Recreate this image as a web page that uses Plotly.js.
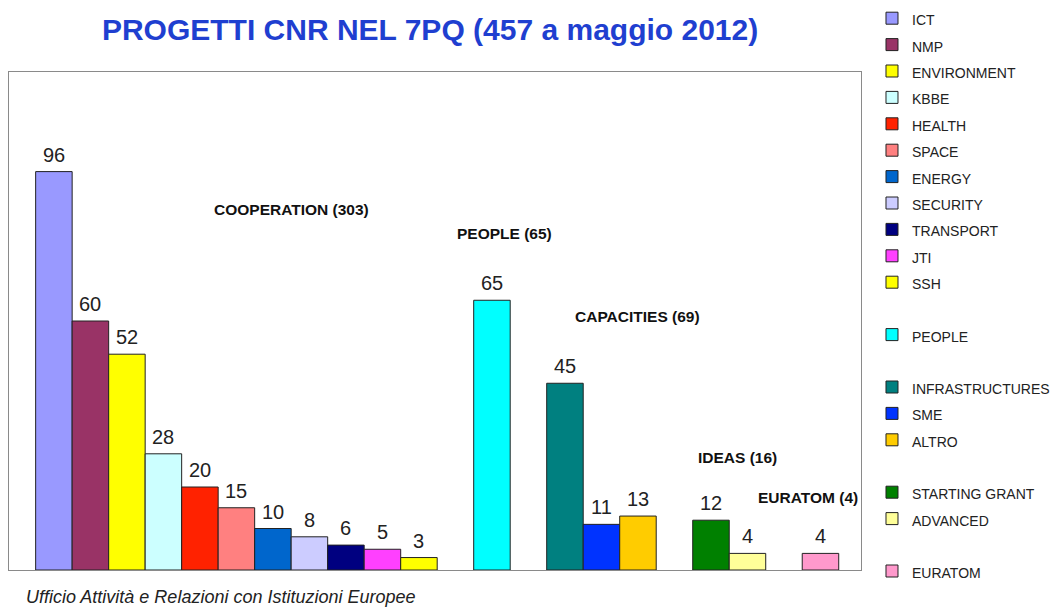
<!DOCTYPE html>
<html>
<head>
<meta charset="utf-8">
<script src="https://cdn.plot.ly/plotly-3.0.1.min.js"></script>
<style>html,body{margin:0;padding:0;background:#fff;}#chart{width:1060px;height:607px;}</style>
</head>
<body>
<div id="chart"></div>
<script>
const categories = ['ICT','NMP','ENVIRONMENT','KBBE','HEALTH','SPACE','ENERGY','SECURITY','TRANSPORT','JTI','SSH','PEOPLE','INFRASTRUCTURES','SME','ALTRO','STARTING GRANT','ADVANCED','EURATOM'];
const values = [96,60,52,28,20,15,10,8,6,5,3,65,45,11,13,12,4,4];
const programmes = ['COOPERATION','COOPERATION','COOPERATION','COOPERATION','COOPERATION','COOPERATION','COOPERATION','COOPERATION','COOPERATION','COOPERATION','COOPERATION','PEOPLE','CAPACITIES','CAPACITIES','CAPACITIES','IDEAS','IDEAS','EURATOM'];
const colors = ['#9999FF','#993366','#FFFF00','#CCFFFF','#FF2200','#FF8080','#0066CC','#CCCCFF','#000080','#FF40FF','#FFFF00','#00FFFF','#008080','#0033FF','#FFCC00','#008000','#FFFF99','#FF99CC'];
const groupLabels = ['COOPERATION (303)','PEOPLE (65)','CAPACITIES (69)','IDEAS (16)','EURATOM (4)'];
const titleText = 'PROGETTI CNR NEL 7PQ (457 a maggio 2012)';
const footerText = 'Ufficio Attività e Relazioni con Istituzioni Europee';

// layout positions of the group labels (paper coords)
const groupLabelPos = [[0.332,0.723],[0.582,0.675],[0.738,0.51],[0.8545,0.225],[0.938,0.1446]];

// category order with spacer slots between programmes
const catOrder = [];
let gapN = 0;
categories.forEach((c,i) => {
  if (i > 0 && programmes[i] !== programmes[i-1]) { gapN++; catOrder.push('gap' + gapN); }
  catOrder.push(c);
});

const FONT = 'Liberation Sans, Arial, sans-serif';

const traces = categories.map((c,i) => ({
  type: 'bar',
  x: [c],
  y: [values[i]],
  width: [1],
  name: '<span style="font-size:14px">' + c + '</span>',
  legendgroup: programmes[i],
  marker: {color: colors[i], line: {color: '#222', width: 1}},
  hoverinfo: 'x+y'
}));

const annotations = categories.map((c,i) => ({
  x: c, y: values[i], xref: 'x', yref: 'y',
  text: String(values[i]), showarrow: false,
  yanchor: 'bottom', yshift: 4,
  font: {family: FONT, size: 20, color: '#222'}
}));

groupLabels.forEach((t,i) => annotations.push({
  x: groupLabelPos[i][0], y: groupLabelPos[i][1], xref: 'paper', yref: 'paper',
  text: '<b>' + t + '</b>', showarrow: false, xanchor: 'center', yanchor: 'middle',
  font: {family: FONT, size: 15.5, color: '#111'}
}));

annotations.push({
  x: 0.0176, y: -0.054, xref: 'paper', yref: 'paper', xanchor: 'left', yanchor: 'middle',
  text: '<i>' + footerText + '</i>', showarrow: false,
  font: {family: FONT, size: 18, color: '#222'}
});

const layout = {
  width: 1060, height: 607,
  margin: {l: 9, r: 199, t: 72, b: 37, autoexpand: false},
  paper_bgcolor: '#fff', plot_bgcolor: '#fff',
  title: {text: '<b>' + titleText + '</b>', x: 0.4057, xref: 'container', xanchor: 'center',
          y: 0.9506, yref: 'container', yanchor: 'middle',
          font: {family: FONT, size: 30, color: '#1F3FD0'}},
  barmode: 'overlay', bargap: 0,
  xaxis: {type: 'category', categoryorder: 'array', categoryarray: catOrder,
          range: [-1.23, 22.11], showticklabels: false, ticks: '', showgrid: false, zeroline: false,
          showline: true, mirror: true, linecolor: '#8a8a8a', linewidth: 1, fixedrange: true},
  yaxis: {range: [0, 120], showticklabels: false, ticks: '', showgrid: false, zeroline: false,
          showline: true, mirror: true, linecolor: '#8a8a8a', linewidth: 1, fixedrange: true},
  showlegend: true,
  legend: {x: 1.0129, xanchor: 'left', y: 1, yref: 'container', yanchor: 'top', traceorder: 'grouped',
           tracegroupgap: 26, maxheight: 640, bgcolor: 'rgba(0,0,0,0)', borderwidth: 0,
           font: {family: FONT, size: 18, color: '#222'}},
  annotations: annotations
};

Plotly.newPlot('chart', traces, layout, {displayModeBar: false, staticPlot: true});
</script>
</body>
</html>
